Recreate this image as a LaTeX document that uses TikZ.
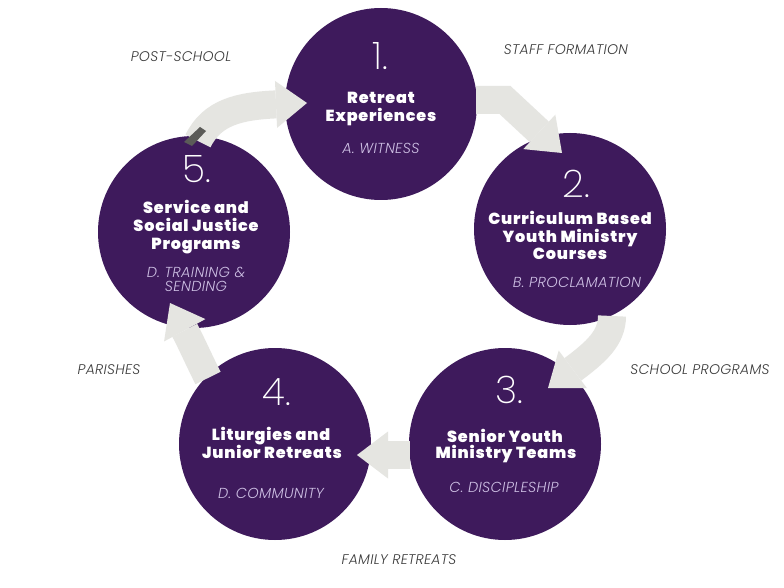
\documentclass[tikz,border=0pt]{standalone}
\usepackage{fontspec}
\setmainfont{Poppins}
\usetikzlibrary{arrows.meta,calc}
\IfFontExistsTF{Poppins Black}{\newfontfamily\titlefont{Poppins Black}[LetterSpace=5]}{%
  \IfFontExistsTF{Poppins ExtraBold}{\newfontfamily\titlefont{Poppins ExtraBold}[LetterSpace=5]}{\newfontfamily\titlefont{Poppins}[LetterSpace=5,UprightFeatures={FakeBold=2}]}}
\IfFontExistsTF{Poppins ExtraLight}{\newfontfamily\numfont{Poppins ExtraLight}}{%
  \IfFontExistsTF{Poppins Light}{\newfontfamily\numfont{Poppins Light}}{\newcommand\numfont{}}}
\IfFontExistsTF{Poppins Light}{\newfontfamily\subfont{Poppins Light}[LetterSpace=2]\newfontfamily\lblfont{Poppins Light}[LetterSpace=2]}{\newfontfamily\subfont{Poppins}[LetterSpace=2]\newfontfamily\lblfont{Poppins}[LetterSpace=2]}
\definecolor{purp}{HTML}{3E1A5C}
\definecolor{arrgray}{HTML}{E5E5E1}
\definecolor{tailgray}{HTML}{5B5B58}
\definecolor{lav}{HTML}{CDBFE3}
\definecolor{lbl}{HTML}{3C3C3C}
\tikzset{
  bubble/.style={circle,fill=purp,minimum size=192pt,inner sep=0pt},
  numtxt/.style={text=white,font=\numfont\fontsize{38}{40}\selectfont,anchor=base,inner sep=0pt},
  ttltxt/.style={text=white,font=\titlefont\fontsize{16}{18}\selectfont,anchor=base,inner sep=0pt},
  subtxt/.style={text=lav,font=\subfont\itshape\fontsize{14.5}{16}\selectfont,anchor=base,inner sep=0pt},
  lbltxt/.style={text=lbl,font=\lblfont\itshape\fontsize{14}{15}\selectfont,anchor=base,inner sep=0pt},
  blockarrow/.style={draw=arrgray,line width=28pt,line cap=butt,
    -{Triangle[width=47pt,length=31pt,line width=0pt,fill=arrgray]}},
}
\begin{document}
\begin{tikzpicture}[x=1pt,y=-1pt]
\useasboundingbox[fill=white] (0,0) rectangle (784,588);
% circles
\node[bubble] (c1) at (381,104) {};
\node[bubble] (c2) at (570,229) {};
\node[bubble] (c3) at (505,444) {};
\node[bubble] (c4) at (275,444) {};
\node[bubble] (c5) at (194,232) {};
% arrows
\draw[blockarrow] ($(c5.center)+(4,-91)$) .. controls (212,112) and (240,106) .. ($(c1.center)+(-74,-1)$);
\fill[tailgray] (184,142) -- (200,127) -- (206,131) -- (192,146) -- cycle;
\draw[blockarrow] ($(c1.center)+(95,-4)$) -- (505,100) -- ($(c2.center)+(-8,-76)$);
\draw[blockarrow] ($(c2.center)+(42,87)$) .. controls (612,338) and (596,352) .. ($(c3.center)+(43,-56)$);
\draw[blockarrow] ($(c3.center)+(-95,11)$) -- ($(c4.center)+(82,11)$);
\draw[blockarrow] ($(c4.center)+(-67,-66)$) .. controls (198,358) and (190,340) .. ($(c5.center)+(-24,71)$);
% circle 1
\node[numtxt] (n1) at (380,70) {1.};
\node[ttltxt] (t1a) at (381,104) {Retreat};
\node[ttltxt] (t1b) at (381,122) {Experiences};
\node[subtxt] (s1) at (381,154) {A. WITNESS};
% circle 2
\node[numtxt] (n2) at (576,198) {2.};
\node[ttltxt] (t2a) at (570,224) {Curriculum Based};
\node[ttltxt] (t2b) at (570,242) {Youth Ministry};
\node[ttltxt] (t2c) at (570,259) {Courses};
\node[subtxt] (s2) at (577,287) {B. PROCLAMATION};
% circle 3
\node[numtxt] (n3) at (509,403) {3.};
\node[ttltxt] (t3a) at (505,442) {Senior Youth};
\node[ttltxt] (t3b) at (506,458) {Ministry Teams};
\node[subtxt] (s3) at (504,492) {C. DISCIPLESHIP};
% circle 4
\node[numtxt] (n4) at (277,405) {4.};
\node[ttltxt] (t4a) at (271,440) {Liturgies and};
\node[ttltxt] (t4b) at (272,458) {Junior Retreats};
\node[subtxt] (s4) at (271,498) {D. COMMUNITY};
% circle 5
\node[numtxt] (n5) at (197,183) {5.};
\node[ttltxt] (t5a) at (196,213) {Service and};
\node[ttltxt] (t5b) at (196,231) {Social Justice};
\node[ttltxt] (t5c) at (196,249) {Programs};
\node[subtxt] (s5a) at (196,277) {D. TRAINING \&};
\node[subtxt] (s5b) at (196,291) {SENDING};
% outer labels
\node[lbltxt] (l1) at (181,62) {POST-SCHOOL};
\node[lbltxt] (l2) at (566,55) {STAFF FORMATION};
\node[lbltxt] (l3) at (700,374) {SCHOOL PROGRAMS};
\node[lbltxt] (l4) at (109,374) {PARISHES};
\node[lbltxt] (l5) at (399,564) {FAMILY RETREATS};
\end{tikzpicture}
\end{document}
